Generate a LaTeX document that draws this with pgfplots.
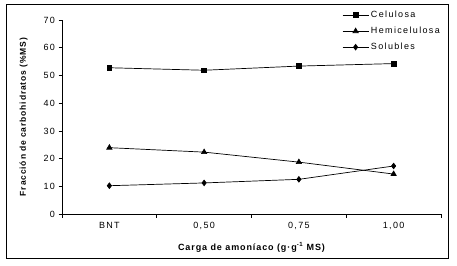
\documentclass[border=0pt]{standalone}
\usepackage{pgfplots}
\pgfplotsset{compat=1.18}
\usepackage{fontspec}
\setmainfont{Liberation Sans}
\newfontfamily\wideA[LetterSpace=15]{Liberation Sans}
\newfontfamily\wideB[LetterSpace=10]{Liberation Sans}
\begin{document}
\begin{tikzpicture}[x=1pt,y=1pt]
\path (0,0) rectangle (457,265);
\draw[line width=0.9pt] (6,7) rectangle (448,261);
\begin{axis}[
  at={(62pt,50.7pt)}, anchor=south west,
  scale only axis, width=379pt, height=194.3pt,
  xmin=-0.5, xmax=3.5, ymin=0, ymax=70,
  axis x line*=bottom, axis y line*=left,
  axis line style={-, line width=0.8pt},
  /pgf/number format/assume math mode=true,
  tick label style={font=\wideA\fontsize{9}{10}\selectfont},
  ytick={0,10,...,70},
  xtick={-0.5,0.5,1.5,2.5,3.5}, xticklabels={},
  extra x ticks={0,1,2,3},
  extra x tick labels={BNT,{0,50},{0,75},{1,00}},
  extra x tick style={major tick length=0pt, xticklabel style={yshift=-4pt}},
  tick align=outside, major tick length=3.5pt,
  tick style={black, line width=0.6pt},
  ylabel={\bfseries Fracción de carbohidratos (\%MS)},
  ylabel style={font=\wideB\fontsize{8.5}{10}\selectfont, yshift=9pt},
  xlabel={\bfseries Carga de amoníaco (g·g\textsuperscript{-1} MS)},
  xlabel style={font=\wideB\fontsize{9}{10}\selectfont, yshift=-3pt},
  legend style={draw=none, fill=none, at={(0.739,1.057)}, anchor=north west,
    font=\wideA\fontsize{9}{10}\selectfont, row sep=4pt, inner sep=0pt},
  legend cell align=left,
  legend image code/.code={\draw[#1] (0pt,0pt) -- (26pt,0pt); \draw[#1, only marks] plot coordinates {(13pt,0pt)};},
  every axis plot/.append style={black, line width=0.7pt, mark options={solid, fill=black}},
]
\addplot[mark=square*, mark size=2.3pt] coordinates {(0,52.8) (1,51.9) (2,53.4) (3,54.3)};
\addlegendentry{Celulosa}
\addplot[mark=triangle*, mark size=3pt] coordinates {(0,24.0) (1,22.4) (2,18.8) (3,14.5)};
\addlegendentry{Hemicelulosa}
\addplot[mark=diamond*, mark size=2.8pt] coordinates {(0,10.3) (1,11.3) (2,12.6) (3,17.4)};
\addlegendentry{Solubles}
\end{axis}
\end{tikzpicture}
\end{document}
